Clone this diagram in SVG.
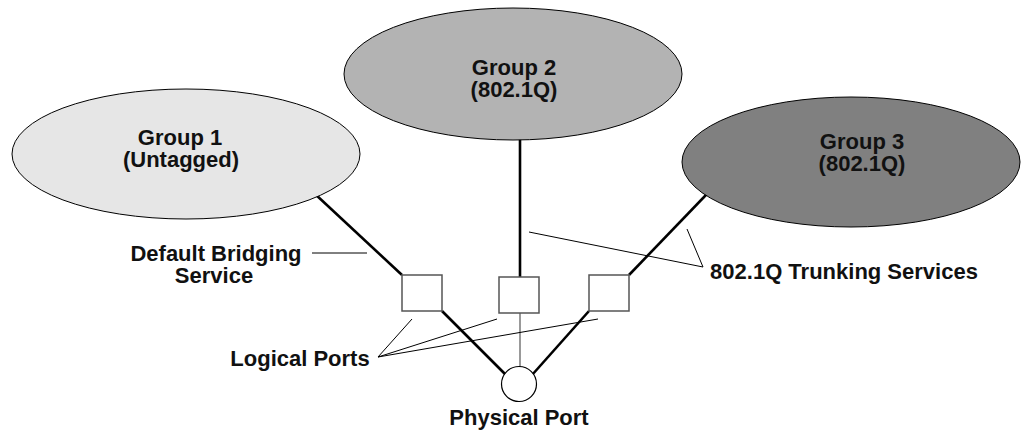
<svg xmlns="http://www.w3.org/2000/svg" width="1022" height="434" viewBox="0 0 1022 434">
<style>
text{font-family:"Liberation Sans",Arial,sans-serif;font-weight:bold;font-size:22px;fill:#111;text-anchor:middle}
.grp{stroke:#000;stroke-width:1}
.thick{stroke:#000;stroke-width:2.6;fill:none}
.thin{stroke:#000;stroke-width:1;fill:none}
.port{fill:#fff;stroke:#555;stroke-width:1.5}
</style>
<rect width="1022" height="434" fill="#fff"/>
<g id="connectors">
<line class="thick" x1="300" y1="180" x2="402" y2="275"/>
<line class="thick" x1="442" y1="311" x2="506" y2="375"/>
<line class="thick" x1="520" y1="120" x2="520" y2="277"/>
<line class="thick" x1="629" y1="275" x2="730" y2="170"/>
<line class="thick" x1="589" y1="311" x2="532" y2="375"/>
<line x1="520" y1="313" x2="520" y2="367" stroke="#555" stroke-width="1.2"/>
</g>
<g id="group2"><ellipse class="grp" cx="513" cy="74" rx="169" ry="66" fill="#b3b3b3"/>
<text x="514" y="75">Group 2</text><text x="514" y="97">(802.1Q)</text></g>
<g id="group1"><ellipse class="grp" cx="186" cy="154" rx="174" ry="65" fill="#e6e6e6"/>
<text x="180" y="145">Group 1</text><text x="181" y="167">(Untagged)</text></g>
<g id="group3"><ellipse class="grp" cx="851" cy="162" rx="169" ry="65" fill="#808080"/>
<text x="862" y="149">Group 3</text><text x="862" y="171">(802.1Q)</text></g>
<g id="port1"><rect class="port" x="402" y="275" width="40" height="36"/></g>
<g id="port2"><rect class="port" x="499" y="277" width="40" height="36"/></g>
<g id="port3"><rect class="port" x="589" y="275" width="40" height="36"/></g>
<g id="physical"><circle cx="519" cy="384" r="17.5" fill="#fff" stroke="#000" stroke-width="1.2"/>
<text x="519" y="425">Physical Port</text></g>
<g id="labels">
<line class="thin" x1="312" y1="253" x2="367" y2="253"/>
<text x="216" y="261">Default Bridging</text><text x="214" y="283">Service</text>
<polyline class="thin" points="412,319 378,357 497,319"/>
<line class="thin" x1="378" y1="357" x2="598" y2="319"/>
<text x="300" y="366">Logical Ports</text>
<polyline class="thin" points="529,232 703,267 687,229"/>
<text x="844" y="279">802.1Q Trunking Services</text>
</g>
</svg>
